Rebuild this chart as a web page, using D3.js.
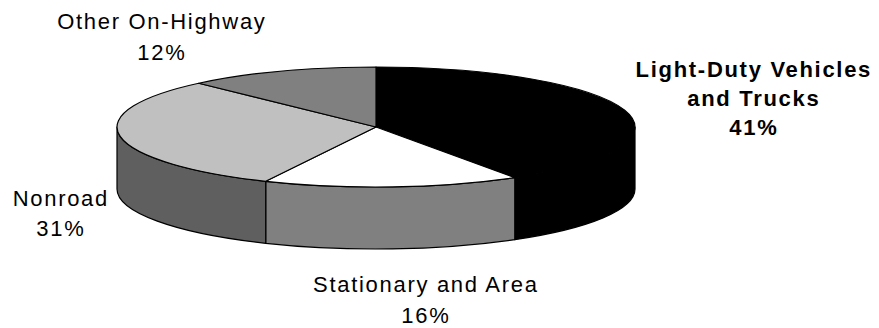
<!DOCTYPE html>
<html>
<head>
<meta charset="utf-8">
<script src="https://cdn.jsdelivr.net/npm/d3@7"></script>
<style>
  html, body { margin: 0; padding: 0; background: #fff; }
  svg { display: block; }
  text { font-family: "Liberation Sans", Arial, sans-serif; font-size: 22px; letter-spacing: 1.7px; fill: #000; }
</style>
</head>
<body>
<svg id="chart" width="879" height="328"></svg>
<script>
// Emission source shares (percent)
const categories = ["Light-Duty Vehicles and Trucks", "Stationary and Area", "Nonroad", "Other On-Highway"];
const shares = [41, 16, 31, 12];
const topColors = ["#000000", "#ffffff", "#c0c0c0", "#808080"];
const sideColors = ["#000000", "#808080", "#5f5f5f", "#404040"];
const labelLines = [
  ["Light-Duty Vehicles", "and Trucks", "41%"],
  ["Stationary and Area", "16%"],
  ["Nonroad", "31%"],
  ["Other On-Highway", "12%"]
];

const W = 879, H = 328;
const cx = 376, cy = 127, rx = 259, ry = 60, depth = 62;

const svg = d3.select("#chart");

// Pie layout: clockwise from 12 o'clock, in the given order
const pie = d3.pie().sort(null).value(d => d)(shares);

// Point on the tilted rim for a pie angle (0 = top, clockwise)
const pt = (a, dy = 0) => [cx + rx * Math.sin(a), cy - ry * Math.cos(a) + dy];

function topPath(a0, a1) {
  const p = d3.path();
  const s = pt(a0), e = pt(a1);
  p.moveTo(cx, cy);
  p.lineTo(s[0], s[1]);
  const large = (a1 - a0) > Math.PI ? 1 : 0;
  return p.toString() + `A${rx},${ry} 0 ${large} 1 ${e[0]},${e[1]}Z`;
}

function sidePath(a0, a1) {
  const s = pt(a0), e = pt(a1), sb = pt(a0, depth), eb = pt(a1, depth);
  const large = (a1 - a0) > Math.PI ? 1 : 0;
  return `M${s[0]},${s[1]}A${rx},${ry} 0 ${large} 1 ${e[0]},${e[1]}` +
         `L${eb[0]},${eb[1]}A${rx},${ry} 0 ${large} 0 ${sb[0]},${sb[1]}Z`;
}

// Visible side walls: only the front half (90° .. 270°)
const frontLo = Math.PI / 2, frontHi = 3 * Math.PI / 2;
const sides = svg.append("g");
pie.forEach((d, i) => {
  const a0 = Math.max(d.startAngle, frontLo), a1 = Math.min(d.endAngle, frontHi);
  if (a1 > a0) {
    sides.append("path")
      .attr("d", sidePath(a0, a1))
      .attr("fill", sideColors[i])
      .attr("stroke", "#000")
      .attr("stroke-width", 1.2)
      .attr("stroke-linejoin", "round");
  }
});

// Top faces
const tops = svg.append("g");
pie.forEach((d, i) => {
  tops.append("path")
    .attr("d", topPath(d.startAngle, d.endAngle))
    .attr("fill", topColors[i])
    .attr("stroke", "#000")
    .attr("stroke-width", 1.2)
    .attr("stroke-linejoin", "round");
});

// Labels
const labelPos = [
  { x: 753, y: 76.5, lh: 29, bold: true },
  { x: 425, y: 291.7, lh: 31 },
  { x: 60, y: 206, lh: 30 },
  { x: 161, y: 28.5, lh: 31.5 }
];
const labels = svg.append("g");
labelLines.forEach((lines, i) => {
  const lp = labelPos[i];
  const t = labels.append("text")
    .attr("text-anchor", "middle")
    .attr("font-weight", lp.bold ? "bold" : "normal");
  lines.forEach((ln, j) => {
    t.append("tspan")
      .attr("x", lp.x + 0.85)
      .attr("y", lp.y + j * lp.lh)
      .text(ln);
  });
});
</script>
</body>
</html>
